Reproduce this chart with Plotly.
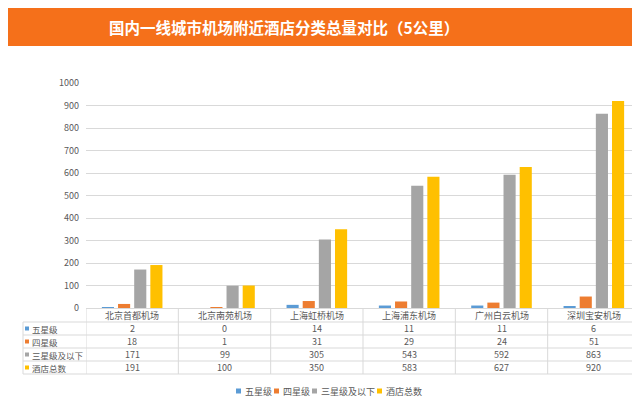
import plotly.graph_objects as go

title = "国内一线城市机场附近酒店分类总量对比（5公里）"
airports = ["北京首都机场", "北京南苑机场", "上海虹桥机场", "上海浦东机场", "广州白云机场", "深圳宝安机场"]
series_names = ["五星级", "四星级", "三星级及以下", "酒店总数"]
five_star = [2, 0, 14, 11, 11, 6]
four_star = [18, 1, 31, 29, 24, 51]
three_below = [171, 99, 305, 543, 592, 863]
total = [191, 100, 350, 583, 627, 920]
y_ticks = [0, 100, 200, 300, 400, 500, 600, 700, 800, 900, 1000]

colors = ["#5B9BD5", "#ED7D31", "#A5A5A5", "#FFC000"]
series_values = [five_star, four_star, three_below, total]

W, H = 640, 397
L, R, T, B = 78, 8, 75, 97
PW = W - L - R
PH = H - T - B
FONT = "Noto Sans CJK SC"
TXT = "#595959"
GRID = "#D9D9D9"


def px(X):
    return (X - L) / PW


def py(Y):
    return (H - B - Y) / PH


fig = go.Figure()
for name, vals, c in zip(series_names, series_values, colors):
    fig.add_trace(go.Bar(name=name, x=airports, y=vals, marker=dict(color=c, line=dict(width=0))))

shapes = []
annotations = []

# title banner
shapes.append(dict(type="rect", xref="paper", yref="paper", x0=px(0), x1=px(W), y0=py(38), y1=py(0),
                   fillcolor="#F5701A", line=dict(width=0), layer="below"))
annotations.append(dict(text="<b>" + title + "</b>", xref="paper", yref="paper", x=px(276), y=py(19),
                        showarrow=False, xanchor="center", yanchor="middle",
                        font=dict(family=FONT, size=15.5, color="white")))

# table grid
row_lines = [314, 327, 340, 353, 366]
for Y in row_lines:
    shapes.append(dict(type="line", xref="paper", yref="paper", x0=px(15), x1=px(632), y0=py(Y), y1=py(Y),
                       line=dict(color=GRID, width=1)))
shapes.append(dict(type="line", xref="paper", yref="paper", x0=px(15), x1=px(15), y0=py(314), y1=py(366),
                   line=dict(color=GRID, width=1)))
n = len(airports)
for i in range(n + 1):
    xc = i - 0.5
    shapes.append(dict(type="line", xref="x", yref="paper", x0=xc, x1=xc, y0=py(300), y1=py(366),
                       line=dict(color=GRID, width=1)))

# header cells
for a in airports:
    annotations.append(dict(text=a, xref="x", yref="paper", x=a, y=py(307), showarrow=False,
                            xanchor="center", yanchor="middle", font=dict(family=FONT, size=9, color=TXT)))

row_y = [320.5, 333.5, 346.5, 359.5]
for name, vals, c, Y in zip(series_names, series_values, colors, row_y):
    shapes.append(dict(type="rect", xref="paper", yref="paper", x0=px(17), x1=px(21), y0=py(Y + 2), y1=py(Y - 2),
                       fillcolor=c, line=dict(width=0)))
    annotations.append(dict(text=name, xref="paper", yref="paper", x=px(21.5), y=py(Y), showarrow=False,
                            xanchor="left", yanchor="middle", font=dict(family=FONT, size=8.5, color=TXT)))
    for a, v in zip(airports, vals):
        annotations.append(dict(text=str(v), xref="x", yref="paper", x=a, y=py(Y), showarrow=False,
                                xanchor="center", yanchor="middle", font=dict(family=FONT, size=9, color=TXT)))

# legend (drawn manually to match compact spacing)
leg_sq = [228, 266, 304, 369]
leg_y = 383
for name, c, X in zip(series_names, colors, leg_sq):
    shapes.append(dict(type="rect", xref="paper", yref="paper", x0=px(X), x1=px(X + 5),
                       y0=py(leg_y + 2.5), y1=py(leg_y - 2.5), fillcolor=c, line=dict(width=0)))
    annotations.append(dict(text=name, xref="paper", yref="paper", x=px(X + 6.5), y=py(leg_y), showarrow=False,
                            xanchor="left", yanchor="middle", font=dict(family=FONT, size=9, color=TXT)))

fig.update_layout(
    width=W, height=H,
    margin=dict(l=L, r=R, t=T, b=B),
    paper_bgcolor="white", plot_bgcolor="white",
    barmode="group", bargap=0.3, bargroupgap=0.25,
    shapes=shapes, annotations=annotations,
    showlegend=False,
    font=dict(family=FONT, color=TXT),
)
fig.update_xaxes(showticklabels=False, showgrid=False, zeroline=False, showline=True, linecolor=GRID,
                 range=[-0.5, n - 0.5])
fig.update_yaxes(range=[0, 1000], tickvals=y_ticks, showgrid=True, gridcolor=GRID, gridwidth=1,
                 zeroline=False, showline=False, tickfont=dict(family=FONT, size=9, color=TXT),
                 ticklabelstandoff=6)

fig.write_html("out.html")
